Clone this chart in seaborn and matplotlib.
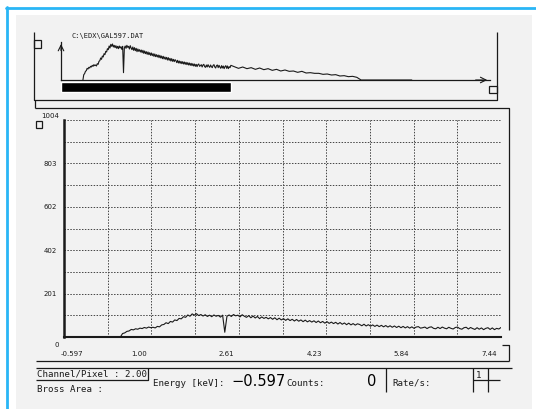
import numpy as np
import seaborn as sns
import matplotlib.pyplot as plt
from matplotlib.patches import Rectangle

# EDX spectrum, counts per channel group (0.04 keV steps from 0.44 keV)
energy_start = 0.44
energy_step = 0.04
counts = [
    0, 16, 19, 26, 28, 35, 33, 38, 36, 41,
    39, 44, 41, 46, 43, 45, 42, 49, 47, 56,
    58, 66, 62, 72, 69, 79, 76, 86, 84, 94,
    91, 102, 96, 107, 101, 108, 99, 104, 97, 103,
    95, 101, 94, 102, 96, 100, 92, 101, 22, 96,
    102, 95, 104, 98, 101, 93, 103, 96, 91, 99,
    89, 97, 88, 95, 85, 93, 86, 91, 84, 90,
    82, 89, 80, 87, 79, 85, 77, 84, 76, 82,
    74, 81, 73, 79, 71, 78, 70, 76, 69, 75,
    67, 74, 66, 72, 64, 71, 63, 69, 62, 68,
    60, 67, 59, 65, 57, 64, 56, 62, 55, 61,
    58, 52, 59, 51, 57, 50, 56, 49, 55, 48,
    54, 47, 53, 46, 52, 45, 51, 44, 50, 43,
    49, 42, 48, 41, 47, 40, 46, 48, 41, 43,
    46, 39, 45, 47, 40, 38, 45, 39, 46, 41,
    38, 45, 40, 37, 44, 46, 39, 36, 43, 45,
    37, 44, 39, 35, 43, 36, 42, 34, 40, 43,
    35, 42, 34, 40, 37, 44,
]
# high-energy tail only seen in the overview strip (0.2 keV steps from 7.6 keV)
tail_start = 7.6
tail_step = 0.2
tail_counts = [
    40, 35, 39, 34, 37, 32, 36, 31, 34, 29,
    32, 27, 30, 26, 27, 23, 26, 21, 22, 20,
    20, 17, 18, 15, 16, 12, 13, 10, 11, 8,
    0, 0, 0, 0, 0, 0, 0, 0, 0, 0, 0, 0, 0,
]

x_min, x_max = -0.597, 7.44
y_max = 1004
x_tick_labels = ["-0.597", "1.00", "2.61", "4.23", "5.84", "7.44"]
y_tick_labels = ["201", "402", "602", "803"]

energy = energy_start + energy_step * np.arange(len(counts))
tail_energy = tail_start + tail_step * np.arange(len(tail_counts))
all_energy = np.concatenate([energy, tail_energy])
all_counts = np.concatenate([counts, tail_counts])

sns.set_style("white")
plt.rcParams["font.family"] = ["DejaVu Sans"]
ink = "#1a1a1a"
mono = "DejaVu Sans Mono"

W, H = 536, 409
fig = plt.figure(figsize=(W / 100, H / 100), dpi=100, facecolor="white")

# pixel-space canvas for the screen furniture
bg = fig.add_axes([0, 0, 1, 1], zorder=0)
bg.set_xlim(0, W)
bg.set_ylim(H, 0)
bg.axis("off")
bg.add_patch(Rectangle((16, 15), 516, 394, facecolor="#f2f2f2", edgecolor="none"))
bg.plot([6, 536], [7.5, 7.5], color="#29b6f6", lw=2)
bg.plot([6.5, 6.5], [7, 409], color="#29b6f6", lw=2)

def seg(xs, ys, lw=0.9):
    bg.plot(xs, ys, color=ink, lw=lw, solid_capstyle="butt")

# overview panel frame
seg([34, 34, 497, 497], [32, 100, 100, 32])
bg.add_patch(Rectangle((34, 40), 7, 8, facecolor="none", edgecolor=ink, lw=0.9))
bg.add_patch(Rectangle((489, 86), 8, 7, facecolor="none", edgecolor=ink, lw=0.9))
bg.text(72, 36, r"C:\EDX\GAL597.DAT", fontsize=5, family=mono, va="center", color=ink)

# main panel frame
seg([35, 35], [100, 108])
seg([35, 509, 509], [108, 108, 330])
bg.add_patch(Rectangle((36, 121), 6, 7, facecolor="none", edgecolor=ink, lw=0.9))
seg([502, 509, 509], [345, 345, 361])
seg([36, 509], [361, 361])
seg([36, 512], [368, 368])

# status bar
seg([36, 148, 148], [380, 380, 368])
seg([386, 386], [368, 392])
seg([473, 473], [368, 392])
seg([488, 488], [368, 392])
seg([473, 500], [380, 380])
bg.text(37, 374, "Channel/Pixel : 2.00", fontsize=6.6, family=mono, va="center", color=ink)
bg.text(37, 389, "Bross Area :", fontsize=6.6, family=mono, va="center", color=ink)
bg.text(153, 383, "Energy [keV]:", fontsize=6.6, family=mono, va="center", color=ink)
bg.text(231, 382, "\u22120.597", fontsize=10.5, va="center", color="black")
bg.text(286, 383, "Counts:", fontsize=6.6, family=mono, va="center", color=ink)
bg.text(372, 382, "0", fontsize=10.5, va="center", ha="center", color="black")
bg.text(392, 383, "Rate/s:", fontsize=6.6, family=mono, va="center", color=ink)
bg.text(476, 375, "1", fontsize=6.6, family=mono, va="center", color=ink)

# overview strip
top = fig.add_axes([61 / W, 1 - 80 / H, 429 / W, 38 / H], zorder=2)
top.set_facecolor("none")
sns.lineplot(x=all_energy, y=all_counts, ax=top, color=ink, linewidth=0.8)
top.set_xlim(x_min, 19.7)
top.set_ylim(0, 114)
top.set_xticks([])
top.set_yticks([])
top.set_xlabel("")
top.set_ylabel("")
for s in ["top", "right"]:
    top.spines[s].set_visible(False)
for s in ["left", "bottom"]:
    top.spines[s].set_color(ink)
    top.spines[s].set_linewidth(0.9)
top.add_patch(Rectangle((x_min, -0.32), x_max - x_min, 0.26, facecolor="black",
                        transform=top.get_xaxis_transform(), clip_on=False))
top.annotate("", xy=(0, 1.02), xytext=(0, 0.7), xycoords="axes fraction",
             arrowprops=dict(arrowstyle="->", color=ink, lw=0.8))
top.annotate("", xy=(1.0, 0), xytext=(0.96, 0), xycoords="axes fraction",
             arrowprops=dict(arrowstyle="->", color=ink, lw=0.8))

# zoomed spectrum
ax = fig.add_axes([64 / W, 1 - 337 / H, 437 / W, 217 / H], zorder=2)
ax.set_facecolor("none")
sns.lineplot(x=energy, y=counts, ax=ax, color=ink, linewidth=0.8)
ax.set_xlim(x_min, x_max)
ax.set_ylim(0, y_max)
x_grid = np.linspace(x_min, x_max, 11)
y_grid = np.linspace(0, y_max, 11)
ax.set_xticks(x_grid[1:])
ax.set_yticks(y_grid[2:9:2])
ax.set_yticklabels(y_tick_labels)
ax.set_xticklabels([])
ax.tick_params(length=0, labelsize=5, labelcolor=ink, pad=5)
for g in x_grid[1:]:
    ax.axvline(g, color="#444444", lw=0.7, ls=(0, (1.5, 1.5)), zorder=0)
for g in y_grid[1:]:
    ax.axhline(g, color="#444444", lw=0.7, ls=(0, (1.5, 1.5)), zorder=0)
ax.set_xlabel("")
ax.set_ylabel("")
for s in ["top", "right"]:
    ax.spines[s].set_visible(False)
ax.spines["left"].set_linewidth(1.8)
ax.spines["bottom"].set_linewidth(1.5)
ax.spines["left"].set_color(ink)
ax.spines["bottom"].set_color(ink)

for i, lab in enumerate(x_tick_labels):
    off = 8 if i == 0 else -12
    ax.annotate(lab, xy=(x_grid[2 * i], 0), xycoords=("data", "axes fraction"),
                xytext=(off, -17), textcoords="offset pixels", ha="center", va="center",
                fontsize=5, color=ink)
ax.annotate("1004", xy=(0, 1), xycoords="axes fraction", xytext=(-14, 4),
            textcoords="offset pixels", ha="center", va="center", fontsize=5, color=ink)
ax.annotate("0", xy=(0, 0), xycoords="axes fraction", xytext=(-7, -8),
            textcoords="offset pixels", ha="center", va="center", fontsize=5, color=ink)

fig.savefig("out.png", dpi=100, facecolor="white")
